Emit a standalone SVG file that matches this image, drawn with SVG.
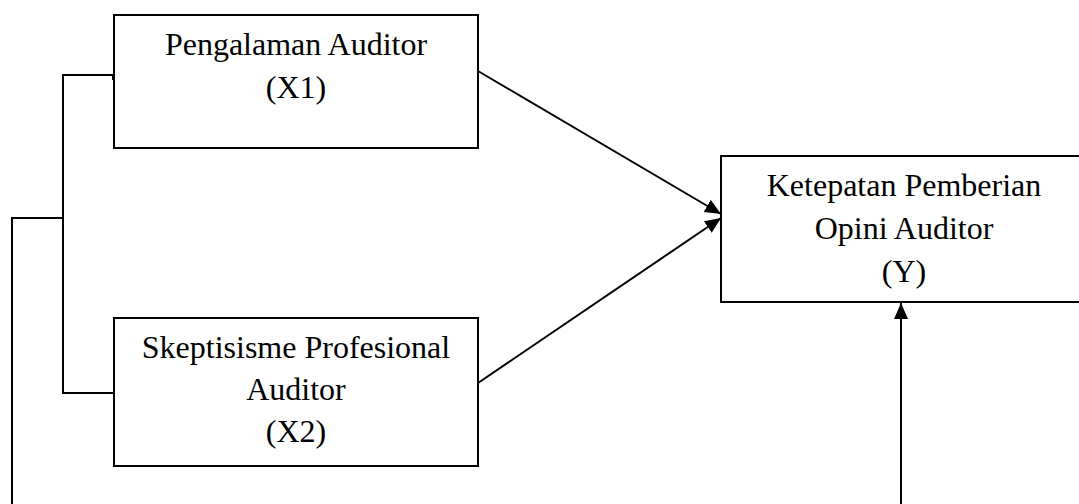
<svg xmlns="http://www.w3.org/2000/svg" width="1079" height="504" viewBox="0 0 1079 504">
<style>
.box{fill:#fff;stroke:#000;stroke-width:2}
.ln{fill:none;stroke:#000;stroke-width:2}
text{font-family:"Liberation Serif","Times New Roman",serif;font-size:32px;fill:#000;text-anchor:middle}
</style>
<defs>
<marker id="ah" markerUnits="userSpaceOnUse" markerWidth="18" markerHeight="16" refX="16" refY="7" orient="auto">
<path d="M0,0 L16,7 L0,14 Z" fill="#000"/>
</marker>
</defs>
<rect width="1079" height="504" fill="#fff"/>
<g id="connectors">
<polyline class="ln" points="113,80 113,75 63,75 63,393 114,393"/>
<polyline class="ln" points="63,218 12,218 12,504"/>
<line class="ln" x1="478" y1="71" x2="721" y2="214" marker-end="url(#ah)"/>
<line class="ln" x1="478" y1="383" x2="721" y2="218" marker-end="url(#ah)"/>
<line class="ln" x1="901" y1="504" x2="901" y2="303" marker-end="url(#ah)"/>
</g>
<g id="x1">
<rect class="box" x="114" y="15" width="364" height="133"/>
<text x="296" y="55">Pengalaman Auditor</text>
<text x="296" y="98">(X1)</text>
</g>
<g id="x2">
<rect class="box" x="114" y="318" width="364" height="148"/>
<text x="296" y="358">Skeptisisme Profesional</text>
<text x="296" y="400">Auditor</text>
<text x="296" y="442">(X2)</text>
</g>
<g id="y">
<rect class="box" x="721" y="156" width="380" height="146"/>
<text x="904" y="196">Ketepatan Pemberian</text>
<text x="904" y="239">Opini Auditor</text>
<text x="904" y="282">(Y)</text>
</g>
</svg>
